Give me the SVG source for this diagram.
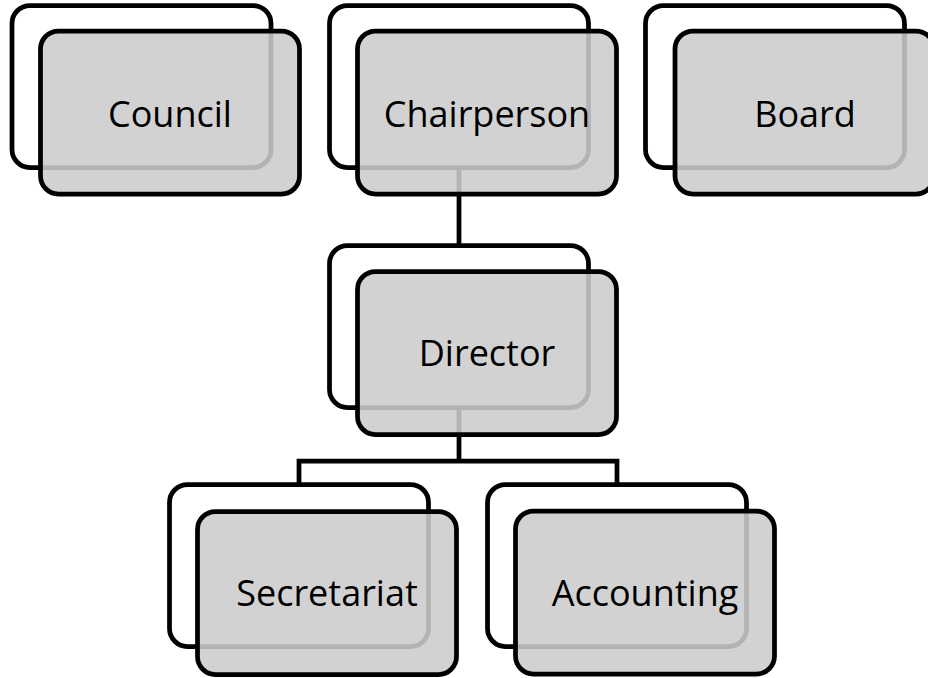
<svg xmlns="http://www.w3.org/2000/svg" width="928" height="678" viewBox="0 0 928 678">
  <style>
    .back { fill: #ffffff; stroke: #000000; stroke-width: 4.75; }
    .front { fill: #cccccc; fill-opacity: 0.88; stroke: #000000; stroke-width: 4.75; }
    .label { font-family: "Open Sans", "Noto Sans", "Liberation Sans", sans-serif; font-size: 36px; fill: #000000; text-anchor: middle; }
    .link { fill: none; stroke: #000000; stroke-width: 4.75; stroke-linejoin: miter; }
  </style>
  <rect width="928" height="678" fill="#ffffff"/>

  <!-- connectors, drawn beneath the translucent front cards -->
  <g id="connectors">
    <path class="link" d="M459 167.5 V245.5"/>
    <path class="link" d="M459 407.5 V461 M299 484.5 V461 H617 V484.5"/>
  </g>

  <g id="council">
    <rect class="back" x="12" y="5.5" width="259" height="162" rx="18"/>
    <rect class="front" x="40.5" y="31" width="259" height="163" rx="18"/>
    <text class="label" x="170" y="126.5">Council</text>
  </g>

  <g id="chairperson">
    <rect class="back" x="329.5" y="5.5" width="259" height="162" rx="18"/>
    <rect class="front" x="357.5" y="31" width="259" height="163" rx="18"/>
    <text class="label" x="487" y="126.5">Chairperson</text>
  </g>

  <g id="board">
    <rect class="back" x="645.5" y="5.5" width="259" height="162" rx="18"/>
    <rect class="front" x="675" y="31" width="259" height="163" rx="18"/>
    <text class="label" x="805" y="126.5">Board</text>
  </g>

  <g id="director">
    <rect class="back" x="329.5" y="245.5" width="259" height="162" rx="18"/>
    <rect class="front" x="357.5" y="271.5" width="259" height="163" rx="18"/>
    <text class="label" x="487" y="366">Director</text>
  </g>

  <g id="secretariat">
    <rect class="back" x="169.5" y="484.5" width="259" height="162" rx="18"/>
    <rect class="front" x="197.5" y="511.5" width="259" height="163" rx="18"/>
    <text class="label" x="327" y="606">Secretariat</text>
  </g>

  <g id="accounting">
    <rect class="back" x="487.5" y="484.5" width="259" height="162" rx="18"/>
    <rect class="front" x="515.5" y="511" width="259" height="163" rx="18"/>
    <text class="label" x="645" y="606">Accounting</text>
  </g>
</svg>
